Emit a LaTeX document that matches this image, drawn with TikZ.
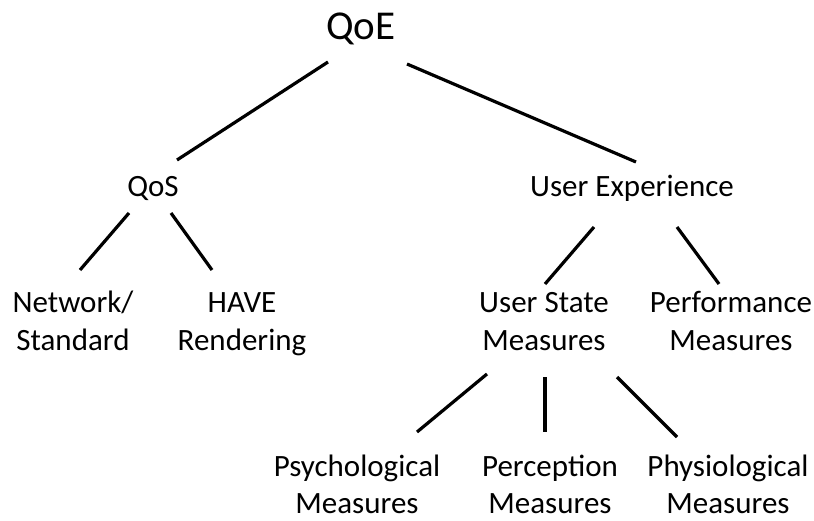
\documentclass[tikz,border=0pt]{standalone}
\usepackage{fontspec}
\setmainfont{Carlito}
\usetikzlibrary{calc}

\begin{document}
\begin{tikzpicture}[
  x=1pt, y=-1pt,
  font=\rmfamily, black,
  root/.style={inner sep=0pt, anchor=base, font=\fontsize{41}{49}\selectfont},
  term/.style={inner sep=0pt, anchor=base, align=center,
               font=\fontsize{31}{37}\selectfont},
  branch/.style={draw=black, line width=3.2pt},
]
\useasboundingbox (0,0) rectangle (814,521);

% ---- top level ---------------------------------------------------------------
\node[root] (qoe) at (361,40) {QoE};

% ---- second level ------------------------------------------------------------
\node[term] (qos) at (153,197) {QoS};
\node[term] (ux)  at (632,197) {User Experience};
\draw[branch] ($(qoe.base)+(-33,22)$) -- ($(qos.base)+(24,-37)$);
\draw[branch] ($(qoe.base)+(46,24)$) -- ($(ux.base)+(4,-35)$);

% ---- under QoS (base = last line) --------------------------------------------
\node[term] (net)  at (73,350)  {Network/\\Standard};
\node[term] (have) at (242,350) {HAVE\\Rendering};
\draw[branch] ($(qos.base)+(-24,16)$) -- ($(net.base)+(7,-80)$);
\draw[branch] ($(qos.base)+(18,16)$) -- ($(have.base)+(-30,-80)$);

% ---- under user experience ---------------------------------------------------
\node[term] (usm)  at (544,350) {User State\\Measures};
\node[term] (perf) at (731,350) {Performance\\Measures};
\draw[branch] ($(ux.base)+(-38,30)$) -- ($(usm.base)+(1,-66)$);
\draw[branch] ($(ux.base)+(45,30)$) -- ($(perf.base)+(-12,-66)$);

% ---- user state measures -----------------------------------------------------
\node[term] (psy)  at (357,513) {Psychological\\Measures};
\node[term] (perc) at (550,513) {Perception\\Measures};
\node[term] (phy)  at (728,513) {Physiological\\Measures};
\draw[branch] ($(usm.base)+(-57,24)$) -- ($(psy.base)+(60,-81)$);
\draw[branch] ($(usm.base)+(1,27)$) -- ($(perc.base)+(-5,-81)$);
\draw[branch] ($(usm.base)+(73,27)$) -- ($(phy.base)+(-51,-76)$);

\end{tikzpicture}
\end{document}
